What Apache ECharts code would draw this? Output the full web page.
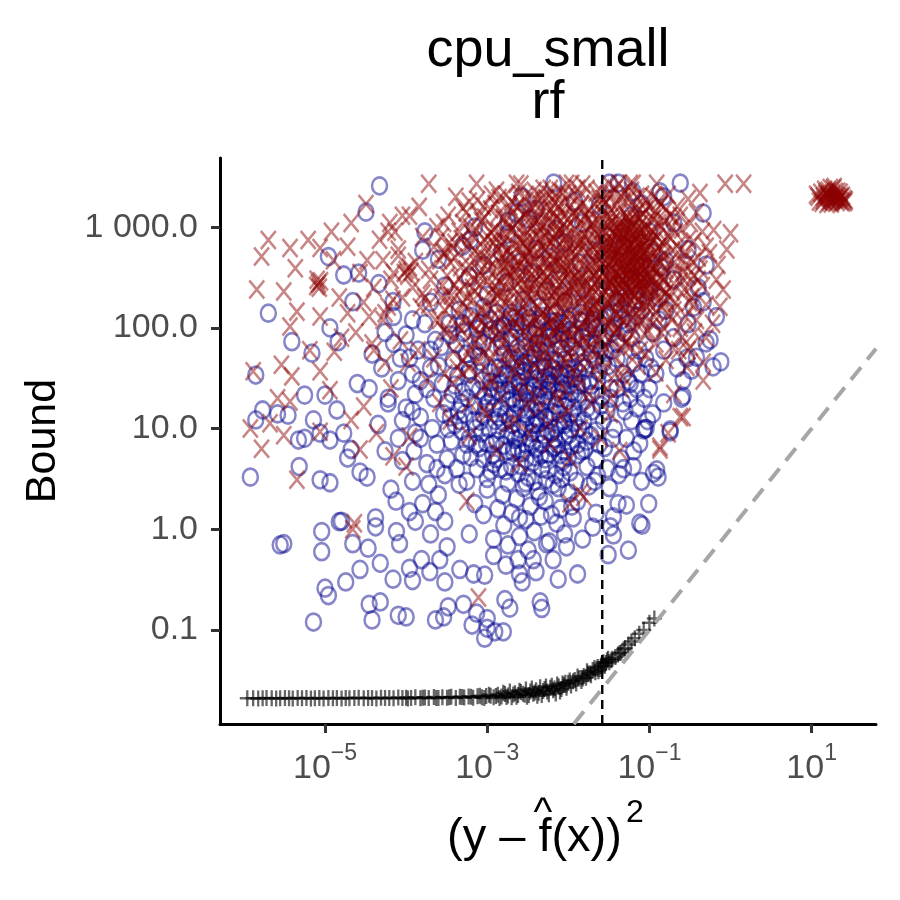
<!DOCTYPE html>
<html>
<head>
<meta charset="utf-8">
<title>cpu_small rf</title>
<script src="https://cdn.jsdelivr.net/npm/echarts@6/dist/echarts.min.js"></script>
<style>
html, body { margin: 0; padding: 0; background: #fff; }
#chart { width: 900px; height: 900px; }
</style>
</head>
<body>
<div id="chart"></div>
<script>
// axis ranges (data units)
var xRange = [5.07e-7, 62.2];
var yRange = [0.01167, 4860];
var cutoffX = 0.0262;

var xTickValues = [1e-5, 1e-3, 1e-1, 10];
var xTickExps = ['\u22125', '\u22123', '\u22121', '1'];
var yTickValues = [0.1, 1, 10, 100, 1000];
var yTickLabels = ['0.1', '1.0', '10.0', '100.0', '1 000.0'];

// red "X" points
var redPts = [
  // top row
  [1.9e-4,2700],[7.4e-4,2700],[2.3e-3,2700],[2.6e-3,2650],[9.5e-3,2700],[1.1e-2,2700],[1.5e-2,2650],[3.2e-2,2700],[4.2e-2,2700],[5.8e-2,2700],[6.3e-2,2700],[0.123,2700],[0.86,2700],[1.45,2700],
  // cluster on the right
  [12,2000],[13,2200],[14,1850],[15,2100],[16,2300],[17,1950],[18,2150],[19,1900],[20,2050],[21,2250],[22,1950],[23,1800],[24,2050],[25,1900],[14.5,2350],[16.5,1800],[18.5,2400],[20.5,1780],[13.5,1750],[22.5,2200],[25.5,1780],[11.5,2100],[15.5,1700],[19.5,2250],[17.5,1720],[21.5,1850],[24,1760],[16,2000],[18,1850],[20,1900],[15,2200],[23,2000],[26,1850],[12.5,1800],[19,2500],[17,2450],[18,2000],[16,2100],[21,2000],[14,2000],
  // left, sparse
  [1.45e-4,1590],[2e-6,745],[1.65e-6,510],[3.7e-6,620],[6.2e-6,745],[1.2e-5,900],[2.1e-5,1100],[6.3e-5,1100],[7.3e-5,900],[4.3e-6,390],[1.44e-6,240],[3.1e-6,230],
  [8.3e-6,275],[8.8e-6,290],[7.9e-6,260],[8.5e-6,250],[8e-6,300],[1.9e-5,640],[8.7e-6,620],[1.27e-5,470],[3.3e-5,470],[5.2e-5,470],[2.7e-5,350],[4.5e-6,145],[3.7e-6,103],[8.7e-6,130],[1.9e-5,140],[3.5e-5,130],[5.2e-5,120],[6.9e-5,190],
  [1e-4,375],[1.1e-4,400],[9.5e-5,350],[1.05e-4,330],[1.15e-4,360],[2.2e-4,640],[2.6e-4,470],[2.9e-4,1100],[1.6e-4,220],[1.7e-4,200],[1.9e-4,170],[6e-5,163],
  [1.3e-6,37],[2.9e-6,43],[3.9e-6,33],[1.2e-6,10],[1.65e-6,6.3],[2.6e-6,20],[3.7e-6,18.6],[2.1e-6,11.3],[3.1e-6,8.6],[4.5e-6,3.1],[6.5e-6,60],[8.7e-6,37],[1.15e-5,24],[8.7e-6,9.3],[1.3e-5,58],[2.1e-5,12.2],[3e-5,16.6],[2.7e-5,6.2],[2.3e-5,1.15],[6.9e-5,5.3],[4.3e-5,9],[2.2e-5,1.0],
  [1.5e-5,200],[2.4e-5,90],[3.8e-5,70],[5.5e-5,45],[1.6e-5,80],[4e-5,250],[3e-5,180],[6.5e-5,300],[8e-5,520],[4.7e-5,750],[9e-5,1300],[3.2e-5,1700],
  [6e-5,900],[8e-5,600],[1.1e-4,1300],[1.3e-4,450],[1.6e-4,800],[2e-4,300],[2.4e-4,1000],[2.9e-4,550],[3.4e-4,700],[7e-5,350],[9e-5,200],[1.2e-4,250],[1.5e-4,160],[1.9e-4,380],[2.3e-4,120],[2.7e-4,200],[3.2e-4,90],[5.5e-5,140],[8.5e-5,75],[1.05e-4,45],[1.4e-4,60],[1.8e-4,30],[2.2e-4,50],[2.6e-4,18],[4e-5,60],[6.5e-5,25],[3e-4,35],
  // middle block
  [6e-4,1800],[1.1e-3,1500],[1.7e-3,2100],[2.6e-3,1700],[3.8e-3,2300],[5.2e-3,1600],[7e-3,2000],[9e-3,1750],[4.5e-3,1450],[1.4e-3,1950],
  [5e-4,1100],[8e-4,1300],[1.2e-3,950],[1.6e-3,1200],[2.2e-3,1050],[2.9e-3,1350],[3.5e-3,980],[4.3e-3,1250],[5.5e-3,1100],[6.6e-3,1380],[8e-3,960],[9.8e-3,1200],[1.15e-2,1400],
  [4e-4,700],[6.5e-4,850],[9e-4,620],[1.3e-3,780],[1.8e-3,580],[2.3e-3,880],[2.8e-3,690],[3.3e-3,560],[4e-3,820],[4.8e-3,650],[5.8e-3,740],[6.9e-3,590],[8.2e-3,860],[9.5e-3,680],[1.1e-2,600],
  [3.5e-4,450],[5.5e-4,380],[8e-4,520],[1.1e-3,410],[1.5e-3,490],[1.9e-3,360],[2.4e-3,460],[3e-3,390],[3.7e-3,530],[4.4e-3,370],[5.3e-3,480],[6.3e-3,420],[7.5e-3,510],[8.8e-3,360],[1.05e-2,450],
  [2.8e-4,260],[4.6e-4,310],[7e-4,230],[1e-3,290],[1.35e-3,210],[1.75e-3,330],[2.1e-3,250],[2.6e-3,300],[3.1e-3,220],[3.8e-3,280],[4.6e-3,240],[5.5e-3,320],[6.5e-3,205],[7.8e-3,270],[9.2e-3,230],[1.1e-2,300],
  [3e-4,150],[5e-4,180],[7.5e-4,130],[1.05e-3,165],[1.4e-3,120],[1.9e-3,190],[2.4e-3,140],[3e-3,175],[3.6e-3,115],[4.3e-3,160],[5.2e-3,135],[6.2e-3,185],[7.4e-3,125],[8.8e-3,170],[1.05e-2,140],
  [4e-4,80],[7e-4,95],[1e-3,65],[1.4e-3,88],[1.9e-3,58],[2.5e-3,100],[3.2e-3,72],[4e-3,55],[5e-3,90],[6e-3,68],[7.5e-3,105],[9e-3,62],[1.1e-2,82],
  [5e-4,35],[9e-4,25],[1.3e-3,42],[1.9e-3,30],[2.6e-3,22],[3.4e-3,38],[4.5e-3,27],[5.8e-3,45],[7.2e-3,32],[9e-3,24],
  [1.2e-3,700],[1.6e-3,400],[2e-3,950],[2.7e-3,600],[3.2e-3,800],[3.9e-3,450],[4.7e-3,1000],[5.6e-3,560],[6.7e-3,780],[8e-3,430],[9.5e-3,1000],[1.15e-2,760],[1.35e-2,560],
  [1.3e-3,320],[1.7e-3,250],[2.2e-3,380],[2.8e-3,270],[3.4e-3,420],[4.1e-3,300],[4.9e-3,360],[5.8e-3,260],[6.9e-3,340],[8.3e-3,290],[9.9e-3,390],[1.2e-2,330],[1.4e-2,250],
  [2.3e-3,1600],[3.6e-3,1900],[5.3e-3,1300],[7.5e-3,1600],[1e-2,2100],[1.25e-2,1300],[1.45e-2,1700],[6e-3,2400],[8.5e-3,2200],[1.3e-2,2400],
  [3.2e-4,210],[4.2e-4,140],[5.2e-4,260],[6.4e-4,110],[7.8e-4,330],[9.5e-4,180],[1.15e-3,240],[1.4e-3,155],[1.7e-3,360],[2.05e-3,125],[2.5e-3,210],[2.95e-3,330],
  [3.8e-4,58],[4.8e-4,95],[6e-4,40],[7.2e-4,72],[8.8e-4,115],[1.08e-3,50],[1.3e-3,85],[1.6e-3,130],[1.95e-3,68],[2.35e-3,44],[2.8e-3,92],
  [4e-4,500],[5.8e-4,620],[7.4e-4,440],[9.2e-4,760],[1.12e-3,560],[1.38e-3,900],[1.68e-3,470],[2.02e-3,680],[2.45e-3,1150],[2.85e-3,520],
  [3.2e-3,140],[3.7e-3,240],[4.2e-3,95],[4.8e-3,190],[5.4e-3,310],[6.1e-3,150],[6.9e-3,230],[7.8e-3,105],[8.7e-3,340],[9.7e-3,200],[1.08e-2,260],[1.2e-2,115],[1.35e-2,380],[1.5e-2,160],[1.7e-2,280],[1.9e-2,130],
  [3.4e-3,60],[4.3e-3,80],[5.1e-3,48],[6.2e-3,115],[7.3e-3,75],[8.6e-3,50],[1e-2,95],[1.2e-2,58],[1.45e-2,85],[1.75e-2,45],[2.1e-2,100],
  [3.1e-3,620],[3.9e-3,1100],[4.6e-3,760],[5.6e-3,900],[6.4e-3,470],[7.2e-3,1200],[8.4e-3,640],[9.4e-3,820],[1.07e-2,540],[1.22e-2,950],[1.38e-2,690],[1.58e-2,850],[1.78e-2,1200],[2e-2,640],
  [1.3e-3,2300],[1.9e-3,1600],[2.9e-3,2000],[4.2e-3,1800],[5.9e-3,2100],[8e-3,1400],[3.3e-3,1500],[4.9e-3,2400],[6.8e-3,1750],[1.6e-3,1250],[9e-4,1600],
  [3.5e-4,170],[4.5e-4,230],[5.5e-4,120],[6.8e-4,190],[8.2e-4,270],[9.8e-4,105],[1.18e-3,200],[1.42e-3,280],[1.7e-3,175],[2e-3,230],[2.3e-3,110],[2.7e-3,160],[3.1e-3,270],[3.5e-3,190],[4e-3,120],[4.5e-3,215],[5e-3,280],[5.7e-3,110],[6.4e-3,165],[7.2e-3,240],[8.1e-3,150],[9.1e-3,205],[1.03e-2,120],[1.17e-2,190],[1.32e-2,290],[1.5e-2,210],[1.7e-2,170],[1.95e-2,250],[2.2e-2,180],[2.5e-2,140],
  [3.7e-4,28],[5e-4,48],[6.3e-4,65],[7.6e-4,34],[9e-4,55],[1.05e-3,82],[1.2e-3,30],[1.4e-3,60],[1.65e-3,45],[1.9e-3,95],[2.2e-3,38],[2.55e-3,70],[2.9e-3,52],[3.3e-3,110],[3.8e-3,42],[4.3e-3,65],[4.9e-3,35],[5.5e-3,80],[6.2e-3,50],[7e-3,90],[7.9e-3,40],[8.9e-3,75],[1e-2,55],[1.13e-2,35],[1.28e-2,70],[1.45e-2,110],[1.65e-2,60],[1.88e-2,85],[2.15e-2,40],[2.5e-2,75],[2.9e-2,110],[3.4e-2,70],[4e-2,95],[4.8e-2,60],
  [6e-4,18],[1e-3,14],[1.5e-3,20],[2.2e-3,12],[3e-3,17],[4e-3,20],[5.5e-3,11],[7.5e-3,19],[1e-2,15],[1.3e-2,26],[1.8e-2,22],[2.4e-2,30],[3e-2,25],[3.8e-2,35],[5e-2,40],
  [4.5e-4,900],[5.5e-4,1400],[7e-4,580],[8.5e-4,1150],[1.02e-3,800],[1.25e-3,1700],[1.5e-3,650],[1.8e-3,1000],[2.1e-3,1400],[2.5e-3,760],[2.95e-3,930],[3.45e-3,1250],[4e-3,700],[4.6e-3,1050],[5.3e-3,800],[6.1e-3,1500],[7e-3,860],[8.1e-3,1150],[9.3e-3,560],[1.07e-2,1650],
  [6e-4,420],[8e-4,360],[1.05e-3,470],[1.3e-3,390],[1.6e-3,540],[2e-3,330],[2.4e-3,410],[2.9e-3,480],[3.5e-3,340],[4.2e-3,560],[5e-3,440],[6e-3,350],[7.2e-3,460],[8.6e-3,530],[1e-2,350],
  [2.7e-4,800],[3.3e-4,1300],[4.1e-4,2000],[5e-4,1550],[6.2e-4,1000],[7.6e-4,1850],[9.3e-4,1250],[1.13e-3,2100],[1.37e-3,1350],[1.66e-3,860],[2e-3,1800],[2.45e-3,2200],[3e-3,1250],[3.65e-3,1550],[4.4e-3,2100],[5.3e-3,1950],[6.4e-3,1150],[7.7e-3,2300],[9.2e-3,1350],
  [3e-4,560],[3.8e-4,620],[4.8e-4,760],[6e-4,690],[7.4e-4,920],[9e-4,510],[1.1e-3,880],[1.34e-3,600],[1.62e-3,720],[1.96e-3,530],[2.38e-3,640],[2.88e-3,820],[3.5e-3,610],[4.25e-3,900],[5.15e-3,600],[6.25e-3,700],[7.6e-3,900],[9.2e-3,780],
  [2.6e-4,120],[3.2e-4,330],[3.9e-4,270],[4.7e-4,400],[5.7e-4,200],[6.9e-4,300],[8.4e-4,150],[1.02e-3,380],[1.24e-3,260],[1.5e-3,200],[1.82e-3,430],[2.2e-3,290],[2.68e-3,400],[3.25e-3,250],[3.95e-3,370],[4.8e-3,140],[5.8e-3,420],[7.05e-3,185],[8.55e-3,400],[1.04e-2,230],
  [2.9e-4,95],[3.6e-4,210],[4.4e-4,105],[5.4e-4,160],[6.6e-4,250],[8e-4,90],[9.7e-4,140],[1.18e-3,110],[1.43e-3,230],[1.74e-3,100],[2.11e-3,160],[2.56e-3,125],[3.1e-3,210],[3.77e-3,85],[4.58e-3,135],[5.56e-3,230],[6.75e-3,95],[8.2e-3,195],[9.95e-3,85],
  [4.3e-4,40],[5.9e-4,55],[8.1e-4,46],[1.1e-3,30],[1.5e-3,70],[2.05e-3,50],[2.8e-3,28],[3.8e-3,75],[5.2e-3,60],[7.1e-3,22],[9.7e-3,45],[1.32e-2,33],[1.8e-2,65],[2.45e-2,50],[3.3e-2,20],[4.5e-2,25],
  // right block, densest
  [0.014,1600],[0.024,1900],[0.033,1500],[0.047,1750],[0.066,1550],[0.09,1850],[0.12,1450],
  [0.012,1200],[0.019,1050],[0.027,1350],[0.035,1150],[0.044,1000],[0.052,1300],[0.061,1100],[0.075,1250],[0.088,1050],[0.11,1200],[0.14,1000],[0.18,1300],
  [0.013,800],[0.018,950],[0.023,720],[0.029,880],[0.034,760],[0.039,980],[0.046,840],[0.053,730],[0.058,920],[0.067,790],[0.078,870],[0.092,740],[0.105,930],[0.125,800],[0.16,720],[0.21,880],
  [0.012,520],[0.016,650],[0.02,480],[0.024,600],[0.028,540],[0.032,690],[0.036,470],[0.041,580],[0.045,660],[0.05,500],[0.056,620],[0.062,460],[0.068,560],[0.074,680],[0.082,510],[0.094,600],[0.11,470],[0.13,640],[0.15,530],[0.19,590],[0.26,480],
  [0.011,380],[0.015,320],[0.019,420],[0.022,350],[0.026,440],[0.03,310],[0.034,400],[0.038,340],[0.043,430],[0.047,300],[0.052,390],[0.058,330],[0.064,420],[0.071,360],[0.079,310],[0.088,440],[0.1,350],[0.12,400],[0.14,320],[0.17,430],[0.22,370],[0.3,330],
  [0.012,240],[0.016,280],[0.02,210],[0.025,260],[0.029,230],[0.033,290],[0.037,220],[0.042,270],[0.048,200],[0.054,250],[0.06,290],[0.066,215],[0.075,265],[0.085,230],[0.097,280],[0.115,210],[0.135,255],[0.16,220],[0.2,275],[0.27,240],
  [0.011,160],[0.015,190],[0.019,140],[0.023,175],[0.028,150],[0.033,195],[0.039,135],[0.045,170],[0.051,150],[0.059,185],[0.068,140],[0.08,165],[0.095,190],[0.12,145],[0.15,175],[0.2,150],[0.31,180],
  [0.013,95],[0.018,120],[0.024,80],[0.03,105],[0.037,90],[0.044,125],[0.052,75],[0.062,100],[0.075,115],[0.09,85],[0.11,110],[0.14,90],[0.19,120],[0.25,80],
  [0.014,45],[0.021,60],[0.028,38],[0.036,52],[0.047,33],[0.058,65],[0.072,42],[0.09,55],[0.12,36],[0.16,48],
  [0.016,1300],[0.021,900],[0.026,1600],[0.031,1050],[0.037,700],[0.043,1400],[0.049,950],[0.056,1150],[0.064,850],[0.073,1000],[0.084,650],[0.098,780],
  [0.017,560],[0.022,430],[0.027,680],[0.032,520],[0.038,610],[0.044,390],[0.05,560],[0.057,450],[0.065,720],[0.076,400],[0.087,560],[0.1,420],
  [0.018,330],[0.023,300],[0.028,370],[0.034,280],[0.04,350],[0.046,250],[0.053,320],[0.06,380],[0.069,270],[0.078,340],[0.09,290],[0.105,320],
  [0.019,230],[0.025,200],[0.03,185],[0.036,240],[0.041,300],[0.05,175],[0.058,230],[0.066,310],[0.074,190],[0.083,260],[0.095,210],
  [0.03,580],[0.035,880],[0.04,510],[0.045,750],[0.055,540],[0.06,690],[0.07,600],[0.08,470],[0.042,1200],[0.052,820],[0.062,1000],[0.072,700],[0.085,900],[0.026,760],[0.033,460],[0.047,380],[0.064,520],[0.024,1150],[0.029,1750],
  [0.015,740],[0.02,1100],[0.025,510],[0.03,1300],[0.035,620],[0.04,800],[0.045,480],[0.05,1050],[0.055,680],[0.06,560],[0.065,1200],[0.07,830],[0.077,600],[0.085,1350],[0.093,500],[0.1,700],[0.11,900],[0.12,560],[0.13,1100],[0.145,700],
  [0.016,420],[0.021,270],[0.026,350],[0.031,430],[0.036,300],[0.041,470],[0.046,360],[0.051,270],[0.057,410],[0.063,340],[0.07,460],[0.077,290],[0.086,380],[0.096,470],[0.108,290],[0.12,350],[0.135,440],[0.15,300],
  [0.017,160],[0.022,130],[0.027,210],[0.033,110],[0.04,180],[0.047,120],[0.055,210],[0.063,125],[0.072,180],[0.082,120],[0.093,160],[0.105,250],[0.125,180],[0.15,240],[0.18,200],
  [0.018,1500],[0.022,2200],[0.027,1900],[0.035,2100],[0.04,1700],[0.05,2300],[0.055,1900],[0.07,2000],[0.075,1500],[0.1,1600],[0.13,1800],[0.16,1500],[0.2,1250],[0.25,950],[0.3,750],[0.24,600],[0.28,420],[0.35,330],[0.4,500],[0.45,260],[0.5,170],[0.36,90],[0.6,110],[0.23,60],
  [0.013,2000],[0.017,2400],[0.021,1700],[0.025,2300],[0.03,2100],[0.038,2400],[0.045,2000],[0.06,2300],[0.08,2100],[0.09,1500],[0.11,2000],[0.14,1700],[0.17,2100],[0.22,1600],[0.3,1900],[0.38,1400],
  [0.014,1100],[0.019,1350],[0.023,850],[0.028,1100],[0.033,1250],[0.038,900],[0.043,1100],[0.048,850],[0.054,1250],[0.059,1000],[0.068,1350],[0.079,1100],[0.092,950],[0.12,1300],[0.15,1150],[0.19,1000],[0.24,1300],[0.32,1100],[0.45,900],
  [0.013,650],[0.017,760],[0.021,600],[0.026,900],[0.031,700],[0.037,550],[0.042,880],[0.048,700],[0.053,600],[0.061,800],[0.071,520],[0.082,750],[0.096,640],[0.115,750],[0.14,600],[0.17,820],[0.22,650],[0.28,560],[0.35,720],[0.5,640],
  [0.014,440],[0.018,380],[0.022,510],[0.027,430],[0.032,360],[0.037,510],[0.043,330],[0.049,450],[0.055,350],[0.062,520],[0.07,390],[0.08,430],[0.093,330],[0.11,390],[0.13,480],[0.16,380],[0.2,440],[0.26,360],[0.34,450],[0.42,380],
  [0.013,300],[0.017,220],[0.021,330],[0.026,290],[0.031,260],[0.035,330],[0.04,240],[0.045,310],[0.051,220],[0.057,300],[0.064,240],[0.072,320],[0.081,280],[0.092,240],[0.105,300],[0.125,260],[0.15,310],[0.19,230],[0.24,290],[0.32,250],[0.4,300],
  [0.016,120],[0.02,165],[0.025,140],[0.031,170],[0.038,150],[0.046,200],[0.055,130],[0.066,210],[0.079,140],[0.095,180],[0.115,130],[0.14,200],[0.17,140],[0.21,180],[0.28,130],[0.35,170],
  [0.015,75],[0.02,90],[0.026,60],[0.033,80],[0.041,100],[0.05,70],[0.062,85],[0.077,60],[0.095,95],[0.12,70],[0.15,100],[0.19,65],[0.24,100],[0.3,60],
  // right edge
  [0.135,6.2],[0.24,13],[0.29,41],[0.32,65],[0.135,6.6],[0.26,13],[0.46,30],[0.46,45],[0.81,240],[0.74,162],[1.0,870],[0.62,935],[0.42,2180],[0.67,300],[0.55,550],[0.38,120],[0.5,80],[0.7,420],[0.33,200],[0.9,600],[0.2,22],[0.17,9],
  // low values
  [3.5e-4,12],[6e-4,8.5],[9e-4,15],[1.3e-3,6],[1.8e-3,11],[2.5e-3,4.5],[3.3e-3,9],[4.5e-3,16],[6e-3,7],[8e-3,13],[1.05e-2,5],[1.4e-2,10],[1.9e-2,18],[2.5e-2,8],[3.3e-2,14],[4.3e-2,6],[5.6e-4,1.9],[1.55e-2,2.1],[1.05e-2,1.8],[1.4e-2,2.3],[7.8e-4,0.21],[1e-4,4.2],[1.1e-4,8.3]
];

// blue "O" points
var bluePts = [
  // left, sparse
  [4.7e-5,2570],[3.2e-5,1410],[1.7e-4,900],[1.6e-4,590],[1.1e-5,510],[1.7e-5,335],[2.6e-5,350],[4.6e-5,275],[2e-6,140],[2.2e-5,182],[6.9e-5,182],[3.9e-6,73],[1.15e-5,100],[1.45e-5,73],[6.9e-6,56],
  [1.4e-6,34],[1.7e-6,15.3],[1.4e-6,12.2],[2.6e-6,14],[3.5e-6,13.6],[1.2e-6,3.3],[4.7e-6,7.7],[5.6e-6,8],[5.6e-6,21.5],[7.2e-6,12.2],[1e-5,21.5],[8.7e-6,9],[1.15e-5,7.7],[4.8e-6,4.2],[8.7e-6,3.1],[1.15e-5,2.9],[1.4e-5,15.3],[1.9e-5,5.1],[2.7e-5,3.7],[3.3e-5,3.3],[1.7e-5,9],[2.1e-5,6.2],[1.6e-5,1.2],[4.2e-5,1.3],
  [3.5e-5,25],[5e-5,40],[6e-5,18],[8e-5,30],[9e-5,12],[1.1e-4,50],[7e-5,70],[4.5e-5,11],[5.5e-5,6],[1.3e-4,22],[2.5e-5,28],[3.8e-5,55],[1.5e-4,8],[6.5e-5,2.5],[9e-5,4.8],[1.2e-4,3],[1.6e-4,1.8],[2e-4,0.9],[1.1e-4,1.5],[7.5e-5,1.9],
  [5.5e-5,90],[7e-5,130],[8.5e-5,50],[1e-4,85],[1.2e-4,35],[1.4e-4,60],[1.7e-4,110],[2e-4,40],[2.3e-4,75],[6e-5,20],[8e-5,8],[1e-4,16],[1.25e-4,6],[1.5e-4,13],[1.8e-4,25],[2.1e-4,10],[2.4e-4,4],[1.3e-4,1.2],[1.9e-4,2.8],[2.3e-4,1.5],
  // bottom tail
  [2.8e-6,0.7],[3.1e-6,0.72],[9.1e-6,0.95],[9.1e-6,0.6],[1e-5,0.26],[1.1e-5,0.22],[7.2e-6,0.12],[1.5e-5,1.19],[1.8e-5,0.3],[2.2e-5,0.72],[2.7e-5,0.4],[3.4e-5,0.65],[3.5e-5,0.18],[3.8e-5,0.126],[4.2e-5,1.06],[4.8e-5,0.19],[4.8e-5,0.46],[6.9e-5,0.32],[7.6e-5,0.95],[8e-5,0.14],[1e-4,0.135],[8.3e-5,0.72],[1.1e-4,0.41],[1.2e-4,0.31],[1.55e-4,0.5],[1.96e-4,0.38],[2.3e-4,0.126],[2.9e-4,0.135],[3e-4,0.3],[2.6e-4,0.5],[3.3e-4,0.17],[3.2e-4,0.67],[4.6e-4,0.4],[5.1e-4,0.18],[6.5e-4,0.112],[6.8e-4,0.36],[7.4e-4,0.147],[9.3e-4,0.35],[9.3e-4,0.083],[1e-3,0.13],[1e-3,0.104],[1.24e-3,0.096],[1.58e-3,0.096],[1.65e-3,0.2],[1.9e-3,0.165],[1.7e-3,0.44],[2.5e-3,0.36],[4.5e-3,0.19],[4.7e-3,0.164],[3.7e-3,0.5],[5.4e-3,0.72],[9.5e-3,0.67],[1.3e-2,0.36],[3.3e-2,1.06],[3.1e-2,0.56],[3.6e-2,0.88],[5.5e-2,0.62],[5.2e-2,1.74],[8.1e-2,1.1],
  [1.2e-3,0.55],[1.8e-3,0.7],[2.4e-3,0.5],[3.2e-3,0.62],[4e-3,0.38],[6.5e-3,0.5],[7.5e-3,0.32],[2.7e-3,0.3],
  // dense core
  [2e-4,60],[3.5e-4,85],[5.5e-4,55],[8e-4,75],[1.1e-3,95],[1.5e-3,65],[2e-3,80],[2.6e-3,52],[3.3e-3,90],[4.2e-3,70],[5.3e-3,58],[6.6e-3,85],[8.2e-3,62],[1e-2,78],[1.3e-2,55],[1.7e-2,92],[2.2e-2,68],[2.9e-2,57],
  [1.5e-4,30],[2.5e-4,42],[4e-4,27],[6e-4,38],[8.5e-4,46],[1.1e-3,29],[1.4e-3,40],[1.75e-3,33],[2.1e-3,48],[2.5e-3,26],[2.9e-3,37],[3.4e-3,44],[3.9e-3,31],[4.5e-3,25],[5.2e-3,40],[6e-3,34],[7e-3,47],[8.3e-3,28],[9.8e-3,39],[1.2e-2,32],[1.5e-2,45],[1.9e-2,27],[2.4e-2,36],[3.1e-2,42],
  [1.2e-4,15],[2.2e-4,20],[3.5e-4,13],[5e-4,23],[7e-4,17],[9e-4,13.5],[1.15e-3,21],[1.45e-3,16],[1.8e-3,24],[2.15e-3,14],[2.55e-3,19],[3e-3,22.5],[3.5e-3,15.5],[4.1e-3,12.5],[4.8e-3,18],[5.6e-3,24],[6.5e-3,14.5],[7.6e-3,20],[9e-3,16.5],[1.07e-2,23],[1.3e-2,13],[1.6e-2,19],[2e-2,15],[2.6e-2,21],
  [1.3e-4,9],[2.4e-4,7],[4e-4,11],[6e-4,8],[8e-4,6.5],[1.05e-3,10],[1.3e-3,7.5],[1.6e-3,11.5],[2e-3,9],[2.4e-3,6.2],[2.9e-3,10.5],[3.4e-3,8],[4e-3,11],[4.7e-3,7],[5.5e-3,9.5],[6.5e-3,6.4],[7.7e-3,10.8],[9.2e-3,8.3],[1.1e-2,6.8],[1.35e-2,10],[1.7e-2,7.5],[2.2e-2,9.5],[2.8e-2,6.5],
  [1.8e-4,4.5],[3e-4,3.5],[5e-4,5.5],[7.5e-4,4],[1e-3,3.2],[1.3e-3,5],[1.7e-3,3.8],[2.1e-3,5.8],[2.6e-3,4.3],[3.2e-3,3.3],[3.9e-3,5.2],[4.7e-3,4],[5.7e-3,5.6],[7e-3,3.5],[8.5e-3,4.8],[1.05e-2,3.7],[1.3e-2,5.5],[1.7e-2,4.2],[2.3e-2,3.4],
  [2.5e-4,2.2],[4.5e-4,2.8],[7e-4,1.8],[1e-3,2.5],[1.35e-3,1.6],[1.8e-3,2.9],[2.3e-3,2],[2.8e-3,2.6],[3.4e-3,1.7],[4.2e-3,2.4],[5.2e-3,1.9],[6.5e-3,2.8],[8e-3,1.6],[1e-2,2.3],[1.3e-2,1.9],[1.8e-2,2.7],
  [3e-4,1.2],[6e-4,0.9],[9e-4,1.4],[1.2e-3,0.8],[1.6e-3,1.1],[2e-3,1.45],[2.5e-3,0.85],[3e-3,1.25],[3.8e-3,0.95],[4.6e-3,1.35],[5.8e-3,0.75],[7.2e-3,1.15],[9e-3,0.9],[1.15e-2,1.3],[1.5e-2,0.8],[2e-2,1.05],
  [3.2e-4,18],[4.3e-4,33],[5.3e-4,14],[6.6e-4,26],[7.8e-4,52],[9.3e-4,21],[1.08e-3,36],[1.25e-3,12],[1.42e-3,28],[1.62e-3,55],[1.85e-3,19],[2.1e-3,31],[2.35e-3,63],[2.65e-3,16],[2.95e-3,45],[3.3e-3,27],[3.7e-3,11],[4.1e-3,38],[4.6e-3,58],[5.1e-3,21],[5.7e-3,30],[6.3e-3,48],[7e-3,17],[7.8e-3,35],[8.7e-3,12],[9.6e-3,27],[1.07e-2,50],[1.2e-2,22],[1.35e-2,36],[1.55e-2,12],[1.8e-2,30],[2.1e-2,48],[2.5e-2,17],
  [3.6e-4,7.5],[4.8e-4,9.5],[6.3e-4,5.2],[8.2e-4,11.8],[9.8e-4,7.2],[1.17e-3,5.5],[1.38e-3,9.8],[1.58e-3,6.8],[1.9e-3,12.5],[2.2e-3,7.8],[2.5e-3,10],[2.75e-3,5.8],[3.1e-3,13],[3.55e-3,9.2],[4e-3,6.3],[4.5e-3,11.5],[5e-3,8.6],[5.9e-3,12.2],[6.8e-3,8],[7.9e-3,5.5],[9e-3,11],[1.02e-2,8.8],[1.2e-2,11.5],[1.45e-2,6],[1.9e-2,8.5],
  [1.1e-3,3.8],[1.55e-3,2.2],[2e-3,4.2],[2.5e-3,1.3],[3e-3,2.9],[3.6e-3,4.6],[4.4e-3,2.1],[5.3e-3,3.1],[6.2e-3,1.4],[7.5e-3,2.6],[8.8e-3,4.2],[1.1e-2,1.7],
  [8.5e-4,9],[9.5e-4,16],[1.1e-3,25],[1.25e-3,40],[1.4e-3,13],[1.55e-3,22],[1.72e-3,35],[1.9e-3,50],[2.05e-3,11],[2.25e-3,18],[2.45e-3,29],[2.7e-3,42],[2.95e-3,14],[3.2e-3,24],[3.5e-3,37],[3.8e-3,55],[4.15e-3,17],[4.5e-3,30],[4.9e-3,46],[5.3e-3,13],[5.8e-3,26],[6.3e-3,40],[6.9e-3,10],[7.5e-3,23],[8.2e-3,33],[9e-3,48],[9.8e-3,19],[1.08e-2,31],[1.18e-2,16],[1.3e-2,27],
  [2.8e-4,28],[3.8e-4,48],[4.8e-4,18],[5.8e-4,35],[7e-4,60],[8e-4,24],[3.3e-4,10],[4.4e-4,15],[5.6e-4,7],[6.8e-4,12],
  [1.5e-3,75],[2.3e-3,95],[3e-3,65],[3.9e-3,85],[5e-3,70],[6.3e-3,100],[8e-3,75],[1.1e-2,65],[1.5e-2,80],[2e-2,110],
  [1.2e-3,4.5],[1.8e-3,6],[2.4e-3,3.6],[3e-3,7],[3.8e-3,3],[4.6e-3,5.5],[5.6e-3,3.9],[6.8e-3,6.6],[8.3e-3,3.2],[1e-2,5.2],[1.25e-2,3],[1.6e-2,6.2],[2.2e-2,5],
  [1.6e-2,40],[1.9e-2,55],[2.3e-2,30],[2.7e-2,45],[3.3e-2,25],[4e-2,50],[4.8e-2,35],[5.8e-2,20],[2.8e-2,80],[3.6e-2,100],[4.4e-2,150],[5e-2,200],[6e-2,300],[8e-2,400],
  [2.7e-4,65],[3.4e-4,110],[4.2e-4,70],[5.1e-4,90],[6.2e-4,130],[7.5e-4,98],[9e-4,70],[1.1e-3,120],[1.3e-3,90],[1.6e-3,105],[1.9e-3,130],[2.3e-3,115],[2.8e-3,80],[3.3e-3,125],[4e-3,100],[4.8e-3,130],[5.8e-3,80],[7e-3,115],[8.4e-3,90],[1e-2,120],[1.2e-2,85],[1.45e-2,115],[1.75e-2,70],
  [2.9e-4,14],[3.7e-4,22],[4.6e-4,12],[5.8e-4,20],[7.2e-4,10],[8.8e-4,30],[1.02e-3,18],[1.2e-3,16],[1.35e-3,24],[1.5e-3,34],[1.68e-3,14],[1.88e-3,27],[2.08e-3,20],[2.3e-3,40],[2.55e-3,23],[2.8e-3,33],[3.1e-3,18],[3.4e-3,50],[3.75e-3,26],[4.15e-3,21],[4.6e-3,15],[5.1e-3,32],[5.6e-3,19],[6.2e-3,28],[6.9e-3,38],[7.7e-3,14],[8.6e-3,24],[9.6e-3,35],[1.07e-2,14],[1.2e-2,40],[1.35e-2,20],[1.5e-2,28],[1.7e-2,16],[1.95e-2,22],
  [3.2e-4,5],[4.2e-4,4],[5.6e-4,3],[7.3e-4,7],[9e-4,5],[1.15e-3,7],[1.45e-3,4],[1.75e-3,8.5],[2.1e-3,6.5],[2.5e-3,8],[3e-3,5],[3.6e-3,7],[4.3e-3,9],[5.2e-3,5],[6.2e-3,9],[7.4e-3,7],[8.9e-3,6],[1.08e-2,10],[1.3e-2,7],[1.6e-2,9.5],
  // upper, among the red
  [1.2e-4,120],[2e-4,180],[3e-4,260],[4.5e-4,150],[6e-4,320],[8e-4,110],[1e-3,210],[1.3e-3,140],[1.7e-3,280],[2.2e-3,125],[2.8e-3,190],[3.5e-3,350],[4.3e-3,160],[5.2e-3,230],[6.3e-3,115],[7.6e-3,300],[9e-3,180],[1.1e-2,130],[1.3e-2,250],[1.6e-2,170],[2e-2,120],[2.5e-2,310],[3e-2,200],[3.7e-2,140],[4.5e-2,260],[5.5e-2,110],[6.7e-2,190],[8e-2,150],[0.1,230],[0.13,120],
  [5e-4,110],[9e-4,160],[1.4e-3,100],[2e-3,140],[2.7e-3,105],[3.2e-3,160],[4.5e-3,120],[5.8e-3,95],[7e-3,140],[8.5e-3,110],[1.05e-2,95],[1.4e-2,140],[1.8e-2,100],[2.3e-2,150],[3.5e-2,90],[4.5e-2,120],[6e-2,80],[0.075,60],
  [2.5e-4,480],[5e-4,650],[9e-4,420],[1.5e-3,560],[2.5e-3,450],[4e-3,600],[6e-3,500],[9e-3,700],[1.4e-2,440],[2.1e-2,580],[3.2e-2,480],[4.8e-2,650],[7e-2,420],[0.11,560],[0.16,460],
  [7e-4,1000],[1.8e-3,850],[3.3e-3,1200],[7e-3,950],[1.5e-2,1100],[3e-2,800],[6e-2,1300],[0.1,900],[0.2,1100],[4e-3,1500],[1.2e-2,1800],[2.4e-2,1650],[0.08,1700],
  [6.6e-3,2740],[0.032,2740],[0.041,2740],[2.7e-3,2000],[2.3e-3,1380],[1.8e-3,1140],[6.2e-4,745],[0.063,2240],[0.135,2240],[0.24,2740],[0.46,1380],[0.15,2000],
  // right side
  [0.5,420],[0.46,182],[0.67,129],[0.56,76],[0.61,41],[0.26,21],[0.38,51],[0.5,71],[0.26,30],[0.76,46],[0.123,3.9],[0.18,9.7],[0.085,9.7],[0.25,20],[0.18,9.3],[0.091,10],[0.128,3.3],[0.112,3.6],[0.098,1.8],[0.076,1.15],[0.041,1.8],[0.048,4.0],[0.063,4.2],[0.032,2.6],[0.036,1.33],[0.022,1.44],[0.076,7.1],[0.087,10],[0.29,50],[0.33,38],
  [0.2,80],[0.3,110],[0.15,60],[0.4,250],[0.35,160],[0.12,35],[0.07,25],[0.05,15],[0.2,300],[0.3,600],[0.14,400],[0.22,40],
  [0.03,15],[0.04,25],[0.035,8],[0.045,5],[0.055,30],[0.06,12],[0.065,45],[0.025,60],[0.04,70],[0.1,25],[0.09,50],[0.15,18],[0.11,14],[0.08,3],
  [0.021,3],[0.024,7],[0.027,12],[0.03,4],[0.033,20],[0.037,10],[0.042,3.5],[0.047,18],[0.052,8],[0.058,28],[0.064,6],[0.07,16],[0.078,35],[0.086,20],[0.095,12],[0.105,40],[0.022,100],[0.028,130],[0.034,60],[0.04,180],[0.05,90],[0.07,130],[0.09,250],[0.11,90],[0.13,200],[0.16,150]
];

// black "+" points
var blackPts = [
  [1.1e-6,0.021],[1.3e-6,0.021],[1.5e-6,0.0209],[1.7e-6,0.021],[1.9e-6,0.0211],[2.2e-6,0.021],[2.5e-6,0.0209],[2.8e-6,0.021],[3.2e-6,0.0211],[3.6e-6,0.021],
  [4e-6,0.0209],[4.6e-6,0.0211],[5.2e-6,0.021],[5.9e-6,0.0212],[6.7e-6,0.0209],[7.5e-6,0.021],[8.5e-6,0.0211],[9.6e-6,0.0209],[1.1e-5,0.0212],[1.25e-5,0.021],
  [1.4e-5,0.0211],[1.6e-5,0.0209],[1.8e-5,0.0212],[2e-5,0.021],[2.3e-5,0.0211],[2.6e-5,0.0213],[3e-5,0.021],[3.4e-5,0.0212],[3.8e-5,0.0211],[4.3e-5,0.0209],
  [4.9e-5,0.0213],[5.5e-5,0.0211],[6.2e-5,0.0212],[7e-5,0.021],[8e-5,0.0214],[9e-5,0.0211],[1e-4,0.0213],[1.15e-4,0.0212],[1.3e-4,0.0215],[1.5e-4,0.021],
  [1.7e-4,0.0214],[1.9e-4,0.0212],[2.2e-4,0.0216],[2.5e-4,0.0211],[2.8e-4,0.0215],[3.2e-4,0.0213],[3.6e-4,0.0217],[4.1e-4,0.0212],[4.6e-4,0.0218],[5.2e-4,0.0214],
  [5.9e-4,0.0219],[6.7e-4,0.0213],[7.6e-4,0.022],[8.6e-4,0.0215],[9.7e-4,0.0221],
  [1.1e-3,0.0222],[1.2e-3,0.0215],[1.35e-3,0.0228],[1.5e-3,0.0219],[1.65e-3,0.0232],[1.8e-3,0.0224],[2e-3,0.0215],[2.2e-3,0.0236],[2.4e-3,0.0226],[2.6e-3,0.0242],
  [2.9e-3,0.0228],[3.1e-3,0.0218],[3.4e-3,0.0245],[3.7e-3,0.0233],[4e-3,0.0252],[4.3e-3,0.0238],[4.7e-3,0.0226],[5.1e-3,0.026],[5.5e-3,0.0245],[6e-3,0.0268],
  [6.5e-3,0.0252],[7e-3,0.0235],[7.6e-3,0.0275],[8.2e-3,0.026],[8.8e-3,0.0285],[9.5e-3,0.0268],[1e-2,0.03],
  [1.08e-2,0.0282],[1.15e-2,0.031],[1.25e-2,0.0295],[1.35e-2,0.033],[1.45e-2,0.0312],[1.55e-2,0.035],[1.65e-2,0.0335],[1.75e-2,0.037],[1.9e-2,0.0355],[2e-2,0.04],
  [2.15e-2,0.038],[2.3e-2,0.043],[2.45e-2,0.041],[2.6e-2,0.046],[2.8e-2,0.044],[3e-2,0.05],[3.2e-2,0.048],[3.5e-2,0.052],[3.8e-2,0.054],[4.1e-2,0.057],
  [4.5e-2,0.06],[5e-2,0.066],[5.5e-2,0.072],[6e-2,0.077],[6.6e-2,0.083],[7.5e-2,0.092],[8.5e-2,0.1],[0.1,0.118],[0.115,0.13],
  [1.05e-4,0.0209],[1.6e-4,0.0213],[2.35e-4,0.0212],[3.4e-4,0.0215],[4.9e-4,0.0216],[6.3e-4,0.0217],[8.1e-4,0.0223],[9.2e-4,0.0212],[1.05e-3,0.0228],[1.28e-3,0.0221],
  [1.42e-3,0.0212],[1.58e-3,0.0238],[1.73e-3,0.0216],[1.9e-3,0.0245],[2.1e-3,0.0229],[2.3e-3,0.0217],[2.5e-3,0.025],[2.75e-3,0.0233],[3e-3,0.0257],[3.25e-3,0.0226],
  [3.55e-3,0.0262],[3.85e-3,0.024],[4.15e-3,0.0222],[4.5e-3,0.027],[4.9e-3,0.0248],[5.3e-3,0.0275],[5.75e-3,0.023],[6.25e-3,0.028],[6.75e-3,0.0262],[7.3e-3,0.0288],
  [7.9e-3,0.0245],[8.5e-3,0.0295],[9.2e-3,0.03],[1.04e-2,0.0315],[1.2e-2,0.032],[1.3e-2,0.0345],[1.5e-2,0.033],[1.7e-2,0.039],[1.85e-2,0.037],[2.1e-2,0.042],
  [2.35e-2,0.039],[2.55e-2,0.044],[2.7e-2,0.048],[2.9e-2,0.047],[3.1e-2,0.052],[3.4e-2,0.05],[4.3e-2,0.059],[4.8e-2,0.064]
];

// y = x reference line, drawn across the visible range
var identityLine = [[yRange[0], yRange[0]], [xRange[1], xRange[1]]];
var cutoffLine = [[cutoffX, yRange[0]], [cutoffX, yRange[1]]];

var FONT = '"Liberation Sans", Arial, Helvetica, sans-serif';
var SYM_X = 'path://M0,0L10,13M10,0L0,13';
var SYM_O = 'path://M6,0C9.31,0,12,3.13,12,7C12,10.87,9.31,14,6,14C2.69,14,0,10.87,0,7C0,3.13,2.69,0,6,0Z';
var SYM_PLUS = 'path://M6,0L6,12M0,6L12,6';

function nearestIndex(arr, v) {
    var best = 0;
    for (var i = 1; i < arr.length; i++) {
        if (Math.abs(Math.log10(arr[i]) - Math.log10(v)) < Math.abs(Math.log10(arr[best]) - Math.log10(v))) {
            best = i;
        }
    }
    return best;
}

var chart = echarts.init(document.getElementById('chart'));

var option = {
    animation: false,
    backgroundColor: '#fff',
    title: {
        text: 'cpu_small\nrf',
        left: 548,
        top: 25,
        padding: 0,
        textAlign: 'center',
        textStyle: { fontSize: 54, fontWeight: 'normal', color: '#000', fontFamily: FONT, lineHeight: 52 }
    },
    grid: { left: 220, right: 24, top: 158, bottom: 176, containLabel: false },
    xAxis: {
        type: 'log',
        logBase: 10,
        min: xRange[0],
        max: xRange[1],
        splitLine: { show: false },
        axisLine: { lineStyle: { color: '#000', width: 3 } },
        axisTick: { customValues: xTickValues, length: 9, lineStyle: { color: '#333', width: 3 } },
        axisLabel: {
            customValues: xTickValues,
            margin: 18,
            formatter: function(v) {
                return '{b|10}{s|' + xTickExps[nearestIndex(xTickValues, v)] + '}';
            },
            rich: {
                b: { fontSize: 34, color: '#4D4D4D', fontFamily: FONT, lineHeight: 44, verticalAlign: 'bottom' },
                s: { fontSize: 23, color: '#4D4D4D', fontFamily: FONT, lineHeight: 44, verticalAlign: 'top' }
            }
        }
    },
    yAxis: {
        type: 'log',
        logBase: 10,
        min: yRange[0],
        max: yRange[1],
        name: 'Bound',
        nameLocation: 'middle',
        nameGap: 155,
        nameTextStyle: { fontSize: 43, color: '#000', fontFamily: FONT },
        splitLine: { show: false },
        axisLine: { lineStyle: { color: '#000', width: 3 } },
        axisTick: { customValues: yTickValues, length: 9, lineStyle: { color: '#333', width: 3 } },
        axisLabel: {
            customValues: yTickValues,
            margin: 22,
            fontSize: 34,
            color: '#4D4D4D',
            fontFamily: FONT,
            formatter: function(v) {
                return yTickLabels[nearestIndex(yTickValues, v)];
            }
        }
    },
    graphic: [
        { type: 'text', x: 447, y: 838, silent: true,
          style: { text: '(y \u2013 f(x))', font: '47px ' + FONT, fill: '#000', align: 'left', verticalAlign: 'middle' } },
        { type: 'text', x: 626, y: 813, silent: true,
          style: { text: '2', font: '32px ' + FONT, fill: '#000', align: 'left', verticalAlign: 'middle' } },
        { type: 'text', x: 543, y: 814, silent: true,
          style: { text: '^', font: '40px ' + FONT, fill: '#000', align: 'center', verticalAlign: 'middle' } }
    ],
    series: [
        {
            name: 'blue',
            type: 'scatter',
            silent: true,
            symbol: SYM_O,
            symbolSize: [15, 17],
            itemStyle: { color: 'rgba(0,0,0,0)', borderColor: '#00008B', borderWidth: 2.6, opacity: 0.48 },
            data: bluePts
        },
        {
            name: 'red',
            type: 'scatter',
            silent: true,
            symbol: SYM_X,
            symbolSize: [15, 18],
            itemStyle: { color: 'rgba(0,0,0,0)', borderColor: '#8B0000', borderWidth: 2.6, opacity: 0.48 },
            data: redPts
        },
        {
            name: 'black',
            type: 'scatter',
            silent: true,
            symbol: SYM_PLUS,
            symbolSize: [15, 16],
            itemStyle: { color: 'rgba(0,0,0,0)', borderColor: '#000', borderWidth: 2.4, opacity: 0.6 },
            data: blackPts
        },
        {
            name: 'cutoff',
            type: 'line',
            silent: true,
            symbol: 'none',
            lineStyle: { color: '#000', width: 2.4, type: [9, 6] },
            data: cutoffLine
        },
        {
            name: 'identity',
            type: 'line',
            silent: true,
            symbol: 'none',
            lineStyle: { color: '#A6A6A6', width: 4, type: [16, 10] },
            data: identityLine
        }
    ]
};
chart.setOption(option);
</script>
</body>
</html>
